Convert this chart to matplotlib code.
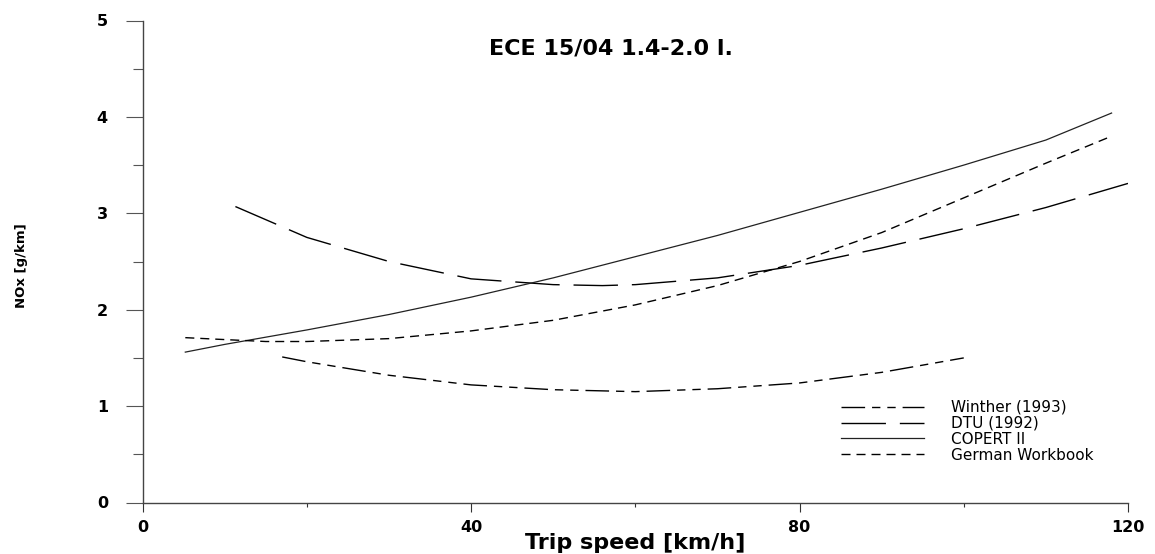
import numpy as np
import matplotlib
matplotlib.use('Agg')
from matplotlib import pyplot as plt
from matplotlib.ticker import MultipleLocator

# Values
winther_x = [17, 20, 30, 40, 50, 60, 70, 80, 90, 100]
winther_y = [1.51, 1.46, 1.32, 1.22, 1.17, 1.15, 1.18, 1.24, 1.35, 1.50]

dtu_x = [11.3, 20, 30, 40, 50, 56, 60, 70, 80, 90, 100, 110, 120]
dtu_y = [3.07, 2.75, 2.50, 2.32, 2.26, 2.25, 2.26, 2.33, 2.46, 2.64, 2.84, 3.06, 3.31]

copert_x = [5.2, 10, 20, 30, 40, 50, 60, 70, 80, 90, 100, 110, 118]
copert_y = [1.56, 1.64, 1.79, 1.95, 2.13, 2.33, 2.55, 2.77, 3.01, 3.25, 3.50, 3.76, 4.04]

german_x = [5.2, 10, 15, 20, 30, 40, 50, 60, 70, 80, 90, 100, 110, 118]
german_y = [1.71, 1.69, 1.67, 1.67, 1.70, 1.78, 1.89, 2.05, 2.25, 2.50, 2.80, 3.16, 3.52, 3.80]

labels = ['Winther (1993)', 'DTU (1992)', 'COPERT II', 'German Workbook']

plt.rcParams['font.family'] = ['DejaVu Sans']

fig = plt.figure(figsize=(11.55, 5.54), dpi=100)
ax = fig.add_axes([142.6 / 1155, 1 - 502.5 / 554, (1128 - 142.6) / 1155, (502.5 - 20.5) / 554])

lw = 1.0
l1, = ax.plot(winther_x, winther_y, color='black', lw=lw, dashes=(17, 5, 6, 5, 6, 5), label=labels[0])
l2, = ax.plot(dtu_x, dtu_y, color='black', lw=lw, dashes=(32, 10), label=labels[1])
l3, = ax.plot(copert_x, copert_y, color='#222222', lw=0.9, label=labels[2])
l4, = ax.plot(german_x, german_y, color='black', lw=lw, dashes=(6.5, 4.3), label=labels[3])

ax.set_xlim(0, 120)
ax.set_ylim(0, 5)
ax.xaxis.set_major_locator(MultipleLocator(40))
ax.xaxis.set_minor_locator(MultipleLocator(20))
ax.yaxis.set_major_locator(MultipleLocator(1))
ax.yaxis.set_minor_locator(MultipleLocator(0.5))

for s in ['top', 'right']:
    ax.spines[s].set_visible(False)
for s in ['left', 'bottom']:
    ax.spines[s].set_color('#444444')
    ax.spines[s].set_linewidth(1.0)

ax.tick_params(axis='y', which='major', direction='out', length=12, width=0.8, color='#555555', pad=13)
ax.tick_params(axis='y', which='minor', direction='out', length=7, width=0.8, color='#555555')
ax.tick_params(axis='x', which='major', direction='out', length=6.5, width=0.8, color='#333333', pad=6)
ax.tick_params(axis='x', which='minor', direction='out', length=3, width=0.8, color='#333333')
for lab in ax.get_xticklabels() + ax.get_yticklabels():
    lab.set_fontweight('bold')
    lab.set_fontsize(11.5)

ax.set_xlabel('Trip speed [km/h]', fontsize=16, fontweight='bold', labelpad=-1)
fig.text(22 / 1155, 1 - 266 / 554, 'NOx [g/km]', rotation=90, fontsize=9.5,
         fontweight='bold', ha='center', va='center')

fig.text(611 / 1155, 1 - 48 / 554, 'ECE 15/04 1.4-2.0 l.', fontsize=16,
         fontweight='bold', ha='center', va='center')

ax.legend(handles=[l1, l2, l3, l4], loc='upper left',
          bbox_to_anchor=((841 - 142.6) / 985.4, (502.5 - 400) / 482),
          frameon=False, fontsize=11, handlelength=5.4, handletextpad=1.8, labelspacing=0.06,
          borderpad=0, borderaxespad=0)

fig.savefig('out.png', dpi=100)
